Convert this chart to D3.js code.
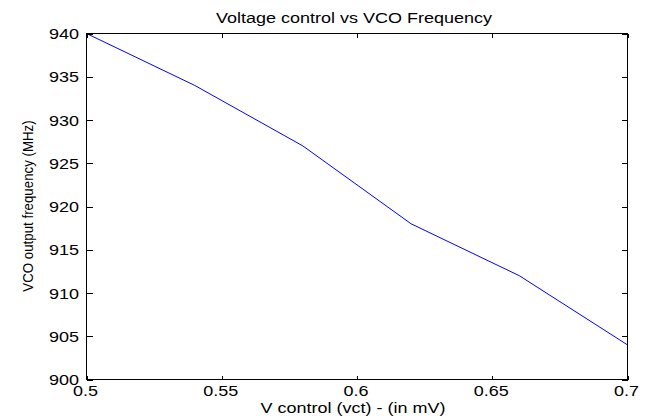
<!DOCTYPE html>
<html>
<head>
<meta charset="utf-8">
<script src="https://cdn.jsdelivr.net/npm/d3@7"></script>
<style>
  html, body { margin: 0; padding: 0; background: #fff; }
  svg { display: block; }
  text { font-family: "Liberation Sans", Arial, sans-serif; fill: #000; }
</style>
</head>
<body>
<svg id="chart" width="660" height="418"></svg>
<script>
// ---- data ----
const vControl = [0.5, 0.54, 0.58, 0.62, 0.66, 0.7];
const vcoFreq  = [940, 934, 927, 918, 912, 904];
const xTicks = [0.5, 0.55, 0.6, 0.65, 0.7];
const xTickLabels = ["0.5", "0.55", "0.6", "0.65", "0.7"];
const yTicks = [900, 905, 910, 915, 920, 925, 930, 935, 940];
const yTickLabels = ["900", "905", "910", "915", "920", "925", "930", "935", "940"];
const titleText = "Voltage control vs VCO Frequency";
const xLabelText = "V control (vct) - (in mV)";
const yLabelText = "VCO output frequency (MHz)";

// ---- layout ----
const L = 86.5, R = 627.5, T = 33.5, B = 379.5;
const SX = 1.2, FS = 15;

const svg = d3.select("#chart");
const x = d3.scaleLinear().domain([0.5, 0.7]).range([L, R]);
const y = d3.scaleLinear().domain([900, 940]).range([B, T]);

// line
const line = d3.line().x((d, i) => x(vControl[i])).y(d => y(d));
svg.append("path")
  .attr("d", line(vcoFreq))
  .attr("fill", "none")
  .attr("stroke", "#0000ff")
  .attr("stroke-width", 1);

// box
svg.append("rect")
  .attr("x", L).attr("y", T)
  .attr("width", R - L).attr("height", B - T)
  .attr("fill", "none").attr("stroke", "#000").attr("stroke-width", 1)
  .attr("shape-rendering", "crispEdges");

// ticks (inward) on all four sides
const g = svg.append("g").attr("stroke", "#000").attr("stroke-width", 1)
  .attr("shape-rendering", "crispEdges");
xTicks.forEach(v => {
  const px = Math.round(x(v)) + 0.5;
  g.append("line").attr("x1", px).attr("x2", px).attr("y1", B).attr("y2", B - 4);
  g.append("line").attr("x1", px).attr("x2", px).attr("y1", T).attr("y2", T + 4);
});
yTicks.forEach(v => {
  const py = Math.round(y(v)) + 0.5;
  g.append("line").attr("x1", L).attr("x2", L + 6).attr("y1", py).attr("y2", py);
  g.append("line").attr("x1", R).attr("x2", R - 6).attr("y1", py).attr("y2", py);
});

// tick labels
xTicks.forEach((v, i) => {
  svg.append("text")
    .attr("transform", `translate(${x(v) - 1},396) scale(${SX},1)`)
    .attr("text-anchor", "middle")
    .attr("font-size", FS)
    .text(xTickLabels[i]);
});
yTicks.forEach((v, i) => {
  svg.append("text")
    .attr("transform", `translate(79,${y(v) + 5.5}) scale(${SX},1)`)
    .attr("text-anchor", "end")
    .attr("font-size", FS)
    .text(yTickLabels[i]);
});

// title
svg.append("text")
  .attr("transform", `translate(354,23) scale(${SX},1)`)
  .attr("text-anchor", "middle")
  .attr("font-size", FS)
  .text(titleText);

// x label
svg.append("text")
  .attr("transform", `translate(353,413) scale(${SX},1)`)
  .attr("text-anchor", "middle")
  .attr("font-size", FS)
  .text(xLabelText);

// y label
svg.append("text")
  .attr("transform", `translate(33,206) rotate(-90) scale(1,1.1)`)
  .attr("text-anchor", "middle")
  .attr("font-size", 13.3)
  .text(yLabelText);
</script>
</body>
</html>
